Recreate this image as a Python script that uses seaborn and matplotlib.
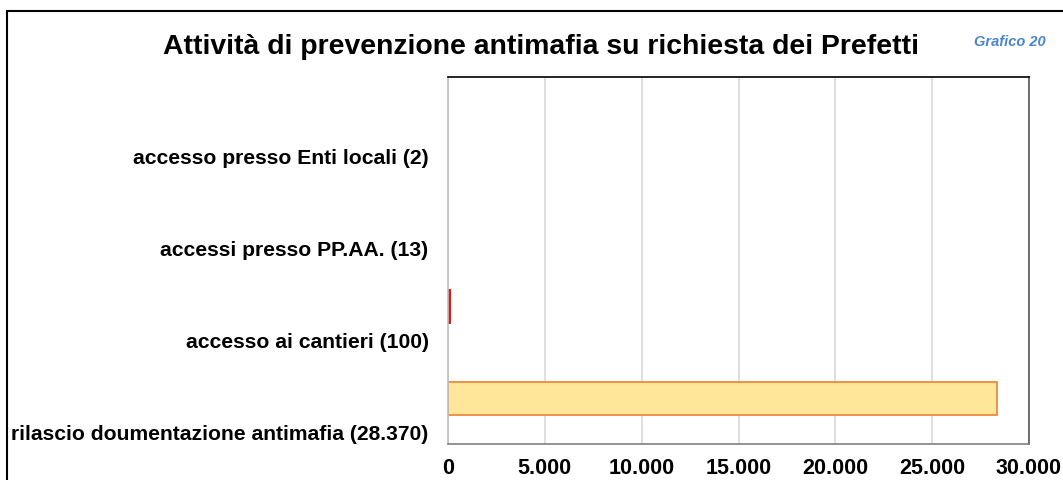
import matplotlib
matplotlib.use("Agg")
import matplotlib.pyplot as plt
import matplotlib.transforms as mtransforms
from matplotlib.patches import Rectangle
from matplotlib.ticker import FuncFormatter
import seaborn as sns
import pandas as pd

# Data
categories = [
    "accesso presso Enti locali (2)",
    "accessi presso PP.AA. (13)",
    "accesso ai cantieri (100)",
    "rilascio doumentazione antimafia (28.370)",
]
values = [2, 13, 100, 28370]
edge_colors = ["none", "none", "#E00000", "#F08A3C"]

df = pd.DataFrame({"categoria": categories, "valore": values})

sns.set_style("white")
plt.rcParams["font.family"] = ["Liberation Sans", "DejaVu Sans"]
plt.rcParams["text.color"] = "black"
plt.rcParams["xtick.color"] = "black"
plt.rcParams["ytick.color"] = "black"

fig = plt.figure(figsize=(10.63, 4.8), dpi=100)
ax = fig.add_axes([448 / 1063, 1 - 444 / 480, (1029 - 448) / 1063, (444 - 77) / 480])

sns.barplot(data=df, x="valore", y="categoria", orient="h", color="#FFE699",
            saturation=1, width=0.36, ax=ax)
for bar, ec in zip(ax.patches, edge_colors):
    bar.set_edgecolor(ec)
    bar.set_linewidth(1.3)

ax.set_xlim(0, 30000)
ax.set_xticks(range(0, 30001, 5000))
ax.xaxis.set_major_formatter(FuncFormatter(lambda v, p: f"{int(v):,}".replace(",", ".")))
ax.grid(axis="x", color="#D9D9D9", linewidth=1.2)
ax.set_axisbelow(True)
ax.set_xlabel("")
ax.set_ylabel("")

ax.tick_params(axis="x", length=0, labelsize=15.5, labelcolor="black", pad=10)
ax.tick_params(axis="y", length=0, labelsize=15.2, labelcolor="black", pad=14)
for lbl in ax.get_xticklabels() + ax.get_yticklabels():
    lbl.set_fontweight("bold")

# Excel-like shift of category labels below the bars
shift = mtransforms.ScaledTranslation(0, -34 / 100, fig.dpi_scale_trans)
for lbl in ax.get_yticklabels():
    lbl.set_transform(lbl.get_transform() + shift)

ax.spines["top"].set_color("black")
ax.spines["right"].set_color("#555555")
ax.spines["left"].set_color("#BFBFBF")
ax.spines["bottom"].set_color("#808080")
for s in ax.spines.values():
    s.set_visible(True)
    s.set_linewidth(1.2)

fig.text(541 / 1063, 1 - 47 / 480, "Attività di prevenzione antimafia su richiesta dei Prefetti",
         ha="center", va="center", fontsize=20.4, fontweight="bold", color="black")
fig.text(1010 / 1063, 1 - 42 / 480, "Grafico 20", ha="center", va="center",
         fontsize=10.5, fontweight="bold", style="italic", color="#4A86D0")

fig.add_artist(Rectangle((7 / 1063, -0.1), 1.2, 1 - 11 / 480 + 0.1, transform=fig.transFigure,
                         fill=False, edgecolor="black", linewidth=1.5))

fig.savefig("out.png", dpi=100)
